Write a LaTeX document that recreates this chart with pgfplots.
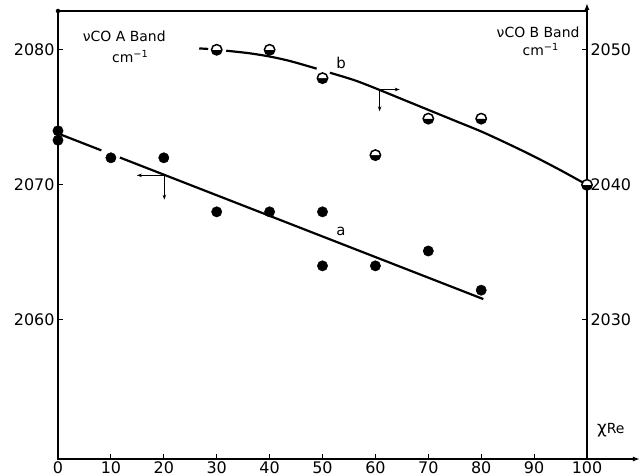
\documentclass[border=0pt]{standalone}
\usepackage{fontspec}
\setmainfont{DejaVu Sans}
\usepackage{pgfplots}
\pgfplotsset{compat=1.18}
\usetikzlibrary{arrows.meta}
\begin{document}
\begin{tikzpicture}
\pgfplotsset{
  every axis/.append style={
    scale only axis, width=529bp, height=448bp,
    xmin=0, xmax=100, clip=false,
    /pgf/number format/1000 sep={},
    /pgf/number format/assume math mode=true,
    tick label style={font=\fontsize{16}{16}\selectfont},
    major tick length=5bp,
    tick align=inside,
    tick style={line width=1.2pt, black},
    axis line style={line width=1.6pt},
  },
}
\begin{axis}[
  ymin=2049.7, ymax=2082.87,
  xtick={0,10,...,100},
  ytick={2060,2070,2080},
  xtick pos=bottom, ytick pos=left,
  xticklabel style={inner sep=0pt, yshift=-2bp},
]
\coordinate (ll) at (rel axis cs:0,0);
\coordinate (ur) at (rel axis cs:1,1);
% line a (segments)
\addplot[black, line width=2.2pt] coordinates {(0,2073.8) (8.2,2072.55)};
\addplot[black, line width=2.2pt] coordinates {(11.7,2072.02) (80.4,2061.54)};
% points a
\addplot[only marks, mark=*, mark size=5.2bp, black] coordinates {
(0,2074.0) (0,2073.3) (10,2072.0) (20,2072.0) (30,2068.0) (40,2068.0)
(50,2068.0) (50,2064.0) (60,2064.0) (70,2065.1) (80,2062.2)};
% arrows a
\draw[line width=0.8pt, -{Stealth[length=5bp,width=3.5bp]}] (axis cs:20.1,2070.7) -- (axis cs:14.9,2070.7);
\draw[line width=0.8pt, -{Stealth[length=5bp,width=3.5bp]}] (axis cs:20.1,2070.7) -- (axis cs:20.1,2068.9);
% labels
\node[anchor=west, inner sep=0pt, font=\fontsize{14}{14}\selectfont] at (axis cs:4.67,2081.0) {νCO A Band};
\node[anchor=west, inner sep=0pt, font=\fontsize{14}{14}\selectfont] at (axis cs:10.2,2079.5) {cm\textsuperscript{−1}};
\node[anchor=west, inner sep=0pt, font=\fontsize{14}{14}\selectfont] at (axis cs:82.9,2081.3) {νCO B Band};
\node[anchor=west, inner sep=0pt, font=\fontsize{14}{14}\selectfont] at (axis cs:87.8,2080.0) {cm\textsuperscript{−1}};
\node[font=\fontsize{15}{15}\selectfont] at (axis cs:53.5,2066.55) {a};
\node[font=\fontsize{15}{15}\selectfont] at (axis cs:53.5,2079.0) {b};
\node[font=\fontsize{14}{14}\selectfont] at (axis cs:104.5,2051.8) {{\fontsize{17}{17}\selectfont χ}Re};
% extended x axis and axis arrows
\draw[line width=1.6pt, -{Latex[length=7bp,width=5bp]}] (axis cs:100,2049.7) -- (axis cs:110,2049.7);
\draw[line width=1.6pt, -{Latex[length=7bp,width=5bp]}] (axis cs:100,2082.87) -- ([yshift=8bp]axis cs:100,2082.87);
\node[circle, fill=black, inner sep=0pt, minimum size=4.5bp] at (axis cs:0,2082.87) {};
\end{axis}
\begin{axis}[
  ymin=2019.7, ymax=2052.87,
  hide x axis,
  ytick={2030,2040,2050},
  ytick pos=right,
  yticklabel style={anchor=west},
]
\addplot[black, line width=2.2pt] coordinates {(26.7,2050.10) (28.4,2050.06)};
\addplot[black, line width=2.2pt, smooth] coordinates {(31.8,2049.93) (36,2049.75) (40,2049.50) (44,2049.15) (48.9,2048.60)};
\addplot[black, line width=2.2pt, smooth] coordinates {(51.4,2048.30) (56,2047.75) (60,2047.15) (65,2046.35) (70,2045.55) (75,2044.75) (80,2043.95) (85,2043.05) (90,2042.10) (95,2041.08) (100,2040.00)};
\addplot[only marks, mark=halfcircle*, mark size=5.2bp, black, mark options={fill=black, draw=black, line width=1.5pt, rotate=180}] coordinates {
(30,2050.0) (40,2050.0) (50,2047.9) (60,2042.2) (70,2044.9) (80,2044.9) (100,2040.0)};
\draw[line width=0.8pt, -{Stealth[length=5bp,width=3.5bp]}] (axis cs:60.8,2047.06) -- (axis cs:64.6,2047.06);
\draw[line width=0.8pt, -{Stealth[length=5bp,width=3.5bp]}] (axis cs:60.8,2047.06) -- (axis cs:60.8,2045.44);
\end{axis}
\pgfresetboundingbox
\path[use as bounding box] ([shift={(-58bp,-17bp)}]ll) rectangle ([shift={(57bp,11bp)}]ur);
\end{tikzpicture}
\end{document}
